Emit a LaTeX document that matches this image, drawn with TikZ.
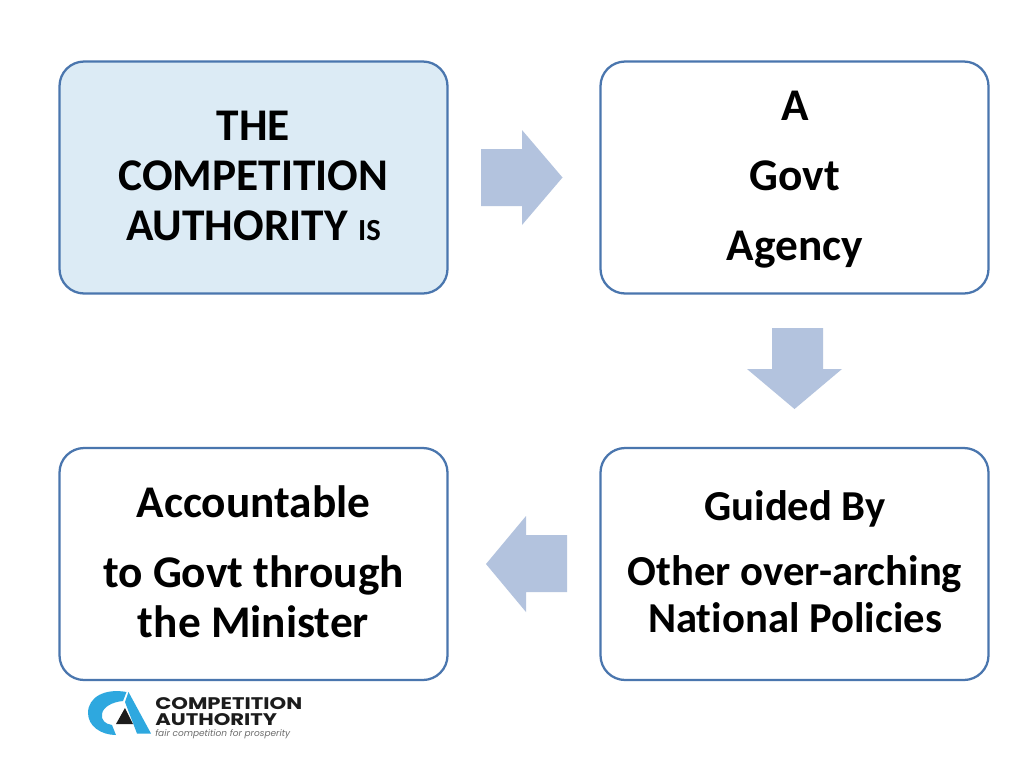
\documentclass[tikz,border=0pt]{standalone}
\usepackage{fontspec}
\setmainfont[Ligatures=NoCommon]{Carlito}
\newfontfamily\logofont[FakeStretch=1.26]{Poppins}
\newfontfamily\tagfont{Poppins}
\definecolor{edgeblue}{HTML}{4A76AE}
\definecolor{lightfill}{HTML}{DCEBF5}
\definecolor{arrowblue}{HTML}{B3C3DE}
\definecolor{logoblue}{HTML}{2EA8DF}
\definecolor{logodark}{HTML}{1C1C1C}
\tikzset{
  panel/.style={draw=edgeblue,line width=1.7pt,rounded corners=18.5pt,fill=white,minimum width=291pt,minimum height=174pt,inner sep=0pt,anchor=center},
  blockarrow/.style={fill=arrowblue,draw=none},
  lab/.style={font=\bfseries\fontsize{34}{40}\selectfont,text=black,align=center,inner sep=0pt,anchor=base},
  labsmall/.style={lab,font=\bfseries\fontsize{32}{38}\selectfont},
  logotxt/.style={text=logodark,inner sep=0pt,anchor=base west}
}
\begin{document}
\begin{tikzpicture}[x=0.75pt,y=-0.75pt]
\useasboundingbox (0,0) rectangle (1024,768);
\fill[white] (0,0) rectangle (1024,768);
\node[panel,fill=lightfill] (tl) at (253.5,177.5) {};
\node[panel] (tr) at (794.5,177.5) {};
\node[panel] (bl) at (253.5,564) {};
\node[panel] (br) at (794.5,564) {};

\node[lab] (t1) at (253.5,140.5) {THE};
\node[lab] (t2) at (253.5,190.5) {COMPETITION};
\node[lab] (t3) at (253.5,240.5) {AUTHORITY {\fontsize{23}{26}\selectfont IS}};

\node[lab] (t4) at (795,120.5) {A};
\node[lab] (t5) at (795,190.5) {Govt};
\node[lab] (t6) at (795,260.5) {Agency};

\node[lab] (t7) at (253.5,517) {Accountable};
\node[lab] (t8) at (253.5,587) {to Govt through};
\node[lab] (t9) at (253.5,637) {the Minister};

\node[labsmall] (t10) at (795,520.5) {Guided By};
\node[labsmall] (t11) at (795,585.5) {Other over-arching};
\node[labsmall] (t12) at (795,632.5) {National Policies};

\fill[blockarrow] (481,149) -- (522,149) -- (522,130) -- (562.5,177.5) -- (522,225) -- (522,206) -- (481,206) -- cycle;
\fill[blockarrow] (772,328) -- (823,328) -- (823,369) -- (842,369) -- (794.5,409) -- (747,369) -- (772,369) -- cycle;
\fill[blockarrow] (567,535) -- (526,535) -- (526,516) -- (486,564) -- (526,612) -- (526,592) -- (567,592) -- cycle;

% logo
\fill[logoblue] (126.5,692) .. controls (105,688) and (88,697) .. (88,713)
  .. controls (88,726) and (101,735) .. (116,735) -- (112,725)
  .. controls (105,724) and (101,720) .. (102,714)
  .. controls (103,707) and (112,702) .. (123,701) -- cycle;
\fill[logoblue] (128.5,692) -- (151,733.5) -- (137,733.5) -- (125,702) -- cycle;
\fill[logodark] (116,724) -- (125,708) -- (133,724) -- cycle;
\node[logotxt,font=\logofont\bfseries\fontsize{12.6}{14}\selectfont] (lg1) at (155,709.5) {COMPETITION};
\node[logotxt,font=\logofont\bfseries\fontsize{12.6}{14}\selectfont] (lg2) at (155,725) {AUTHORITY};
\node[logotxt,font=\tagfont\itshape\fontsize{6.75}{8}\selectfont,text=gray!85!black] (lg3) at (155,736) {fair competition for prosperity};
\end{tikzpicture}
\end{document}
